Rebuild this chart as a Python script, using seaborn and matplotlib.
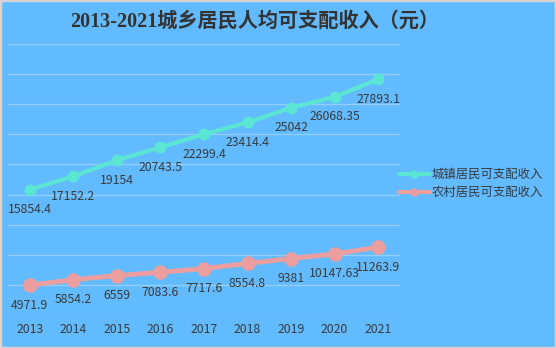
import numpy as np
import pandas as pd
import matplotlib
matplotlib.use("Agg")
import matplotlib.pyplot as plt
import seaborn as sns
from matplotlib.lines import Line2D
from matplotlib.patches import Rectangle

years = ["2013", "2014", "2015", "2016", "2017", "2018", "2019", "2020", "2021"]
urban = [15854.4, 17152.2, 19154, 20743.5, 22299.4, 23414.4, 25042, 26068.35, 27893.1]
rural = [4971.9, 5854.2, 6559, 7083.6, 7717.6, 8554.8, 9381, 10147.63, 11263.9]
urban_label = "城镇居民可支配收入"
rural_label = "农村居民可支配收入"
title = "2013-2021城乡居民人均可支配收入（元）"

BG = "#62BBFF"
C_URBAN = "#5AE6D3"
C_RURAL = "#EC9E9E"
TXT = "#3a3a3a"
GRID = "#93CDF8"

sns.set_theme(style="white")
plt.rcParams['font.family'] = ['Noto Sans CJK SC', 'DejaVu Sans']

# stacked series (rural at bottom, urban stacked on top)
rural_arr = np.array(rural)
urban_stack = rural_arr + np.array(urban)
df = pd.DataFrame({
    "year": years * 2,
    "value": list(rural_arr) + list(urban_stack),
    "series": [rural_label] * len(years) + [urban_label] * len(years),
})
df["x"] = list(range(len(years))) * 2

fig = plt.figure(figsize=(5.56, 3.48), dpi=100)
fig.patch.set_facecolor(BG)
W, H = 556, 348
ax = fig.add_axes([8 / W, 33 / H, 392 / W, 271 / H])
ax.set_facecolor(BG)

sns.lineplot(data=df[df.series == urban_label], x="x", y="value", color=C_URBAN,
             linewidth=3, marker="o", markersize=8.5, markeredgewidth=0, ax=ax, legend=False)
sns.lineplot(data=df[df.series == rural_label], x="x", y="value", color=C_RURAL,
             linewidth=3.5, marker="o", markersize=10.5, markeredgewidth=0, ax=ax, legend=False)

ax.set_xlim(-0.5, len(years) - 0.5)
ax.set_ylim(0, 45000)
ax.set_yticks(np.arange(0, 45001, 5000))
ax.yaxis.grid(True, color=GRID, linewidth=1)
ax.set_yticklabels([])
ax.set_xticks(range(len(years)))
ax.set_xticklabels(years, color=TXT, fontsize=8.8)
ax.tick_params(axis="x", length=0, pad=6)
ax.tick_params(axis="y", length=0)
ax.set_xlabel("")
ax.set_ylabel("")
for s in ax.spines.values():
    s.set_visible(False)

for i, (u, us) in enumerate(zip(urban, urban_stack)):
    ax.annotate(str(u), (i, us), xytext=(0, -20), textcoords="offset pixels",
                ha="center", va="center", color=TXT, fontsize=8.8)
for i, r in enumerate(rural):
    ax.annotate(str(r), (i, r), xytext=(0, -20), textcoords="offset pixels",
                ha="center", va="center", color=TXT, fontsize=8.8)

fig.text(255 / W, 1 - 22 / H, title, ha="center", va="center", color="#333333",
         fontsize=14.5, fontweight="bold", family=['Liberation Serif', 'Noto Sans CJK SC'])

handles = [Line2D([0], [0], color=C_URBAN, lw=3, marker="o", markersize=6, markeredgewidth=0),
           Line2D([0], [0], color=C_RURAL, lw=3, marker="o", markersize=6, markeredgewidth=0)]
leg = fig.legend(handles, [urban_label, rural_label], loc="upper left",
                 bbox_to_anchor=(399 / W, 1 - 168 / H), frameon=False,
                 fontsize=8.9, handlelength=2.5, handletextpad=0.15,
                 labelspacing=0.4, borderaxespad=0, borderpad=0)
for t in leg.get_texts():
    t.set_color(TXT)

fig.add_artist(Rectangle((0, 0), 1, 1, transform=fig.transFigure, fill=False,
                         edgecolor="#d4d4d4", linewidth=2.5))

fig.savefig("out.png", dpi=100, facecolor=BG)
